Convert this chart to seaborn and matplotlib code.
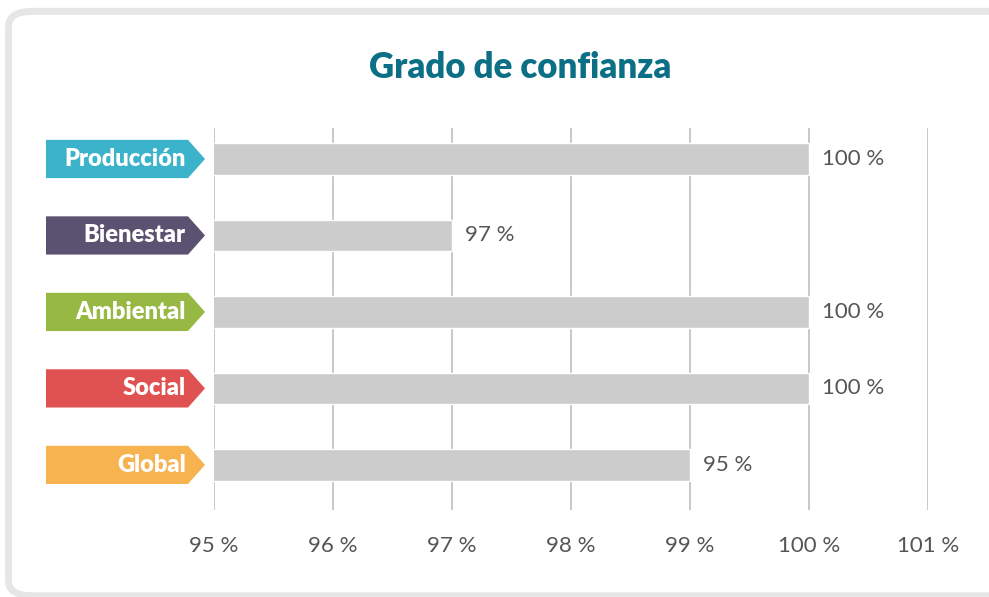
import matplotlib
matplotlib.use("Agg")
import matplotlib.pyplot as plt
import seaborn as sns
import pandas as pd
from matplotlib.patches import Polygon, FancyBboxPatch
from matplotlib.transforms import blended_transform_factory

# Data
categories = ["Producción", "Bienestar", "Ambiental", "Social", "Global"]
values = [100, 97, 100, 100, 99]
value_labels = ["100 %", "97 %", "100 %", "100 %", "95 %"]
tag_colors = ["#3ab3cb", "#5a5270", "#97b843", "#e05252", "#f6b350"]
x_ticks = [95, 96, 97, 98, 99, 100, 101]
x_tick_labels = ["95 %", "96 %", "97 %", "98 %", "99 %", "100 %", "101 %"]

df = pd.DataFrame({"categoria": categories, "valor": values})

sns.set_style("white")
plt.rcParams["font.family"] = ["Lato", "DejaVu Sans"]

fig = plt.figure(figsize=(9.89, 5.97), dpi=100)

# card frame
card = FancyBboxPatch((0.0086, 0.002), 1.2, 0.979, boxstyle="round,pad=0,rounding_size=0.025",
                      transform=fig.transFigure, facecolor="white", edgecolor="#e6e6e6",
                      linewidth=5, zorder=-5)
fig.patches.append(card)

left_px, right_px = 214, 928
ax = fig.add_axes([left_px / 989, 1 - 510 / 597, (right_px - left_px) / 989, (510 - 128) / 597])
ax.set_facecolor("none")
ax.set_zorder(2)

sns.barplot(data=df, x="valor", y="categoria", orient="h", color="#cccccc",
            saturation=1, width=0.41, ax=ax, zorder=2)

ax.set_xlim(95, 101)
ax.set_ylim(4.59, -0.405)
ax.set_xticks(x_ticks)
ax.set_xticklabels(x_tick_labels, fontsize=16, color="#555555")
ax.set_yticks([])
ax.set_xlabel("")
ax.set_ylabel("")
ax.tick_params(axis="x", length=0, pad=19)
for s in ax.spines.values():
    s.set_visible(False)
for xt in x_ticks:
    ax.axvline(xt, color="#c8c8c8", lw=1.4, zorder=1)

# value labels
for i, (v, lab) in enumerate(zip(values, value_labels)):
    ax.text(v + 0.11, i, lab, va="center", ha="left", fontsize=16, color="#555555")

# arrow tags on the left
width_px = right_px - left_px
trans = blended_transform_factory(ax.transAxes, ax.transData)
x0, x1, xt = (46 - left_px) / width_px, (188 - left_px) / width_px, (205 - left_px) / width_px
h = 0.25
for i, (cat, col) in enumerate(zip(categories, tag_colors)):
    poly = Polygon([(x0, i - h), (x1, i - h), (xt, i), (x1, i + h), (x0, i + h)],
                   closed=True, transform=trans, facecolor=col, edgecolor="none",
                   clip_on=False, zorder=3)
    ax.add_patch(poly)
    ax.text(x1 - 0.003, i, cat, transform=trans, ha="right", va="center",
            fontsize=17, fontweight="heavy", color="white", zorder=4)

fig.text(520 / 989, 1 - 67 / 597, "Grado de confianza", ha="center", va="center",
         fontsize=25, fontweight="heavy", color="#0b6f86")

fig.savefig("out.png", dpi=100)
